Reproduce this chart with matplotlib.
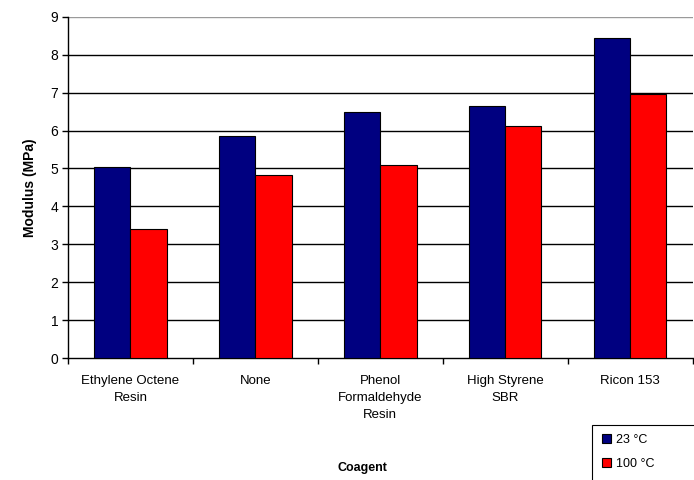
import numpy as np
import matplotlib.pyplot as plt
from matplotlib.patches import Rectangle

plt.rcParams['font.family'] = ['Liberation Sans', 'DejaVu Sans']

coagents = ['Ethylene Octene\nResin', 'None', 'Phenol\nFormaldehyde\nResin',
            'High Styrene\nSBR', 'Ricon 153']
mod_23 = [5.03, 5.86, 6.48, 6.66, 8.45]
mod_100 = [3.40, 4.83, 5.10, 6.13, 6.96]
series_names = ['23 \u00b0C', '100 \u00b0C']

fig = plt.figure(figsize=(6.94, 4.80), dpi=100)
ax = fig.add_axes([0.098, 0.254, 0.9, 0.711])

x = np.arange(len(coagents))
w = 0.29
b1 = ax.bar(x - w / 2, mod_23, w, color='#000080', edgecolor='black', linewidth=0.8,
            label=series_names[0], zorder=3)
b2 = ax.bar(x + w / 2, mod_100, w, color='#ff0000', edgecolor='black', linewidth=0.8,
            label=series_names[1], zorder=3)

ax.set_xlim(-0.5, len(coagents) - 0.5)
ax.set_ylim(0, 9)
ax.set_yticks(range(10))
for v in range(1, 10):
    ax.axhline(v, color='#9a9a9a' if v == 9 else 'black', linewidth=1.0, zorder=1)

# category labels in the middle, ticks on the boundaries
ax.set_xticks(x)
ax.set_xticklabels(coagents, fontsize=9.5, linespacing=1.55, va='top')
ax.tick_params(axis='x', length=0, pad=12)
ax.set_xticks(np.arange(-0.5, len(coagents), 1.0), minor=True)
ax.tick_params(axis='x', which='minor', length=4, width=1, direction='out')
ax.tick_params(axis='y', length=4, width=1, direction='out', labelsize=10, pad=3)

for side in ['top', 'right']:
    ax.spines[side].set_visible(False)
ax.spines['left'].set_linewidth(1)
ax.spines['bottom'].set_linewidth(1)

ax.set_ylabel('Modulus (MPa)', fontsize=10, fontweight='bold', labelpad=10)
fig.text(0.522, 0.012, 'Coagent', fontsize=9, fontweight='bold', ha='center', va='bottom')

# legend box runs past the right and bottom edges of the figure
fig.patches.append(Rectangle((0.853, -0.05), 0.3, 0.165, transform=fig.transFigure,
                             fill=False, edgecolor='black', linewidth=0.8))
fig.legend(handles=[b1, b2], loc='upper left', bbox_to_anchor=(0.86, 0.107),
           fontsize=9, frameon=False, handlelength=0.7, handleheight=0.7,
           handletextpad=0.4, borderpad=0.4, labelspacing=1.0, borderaxespad=0)

fig.savefig('out.png', dpi=100)
